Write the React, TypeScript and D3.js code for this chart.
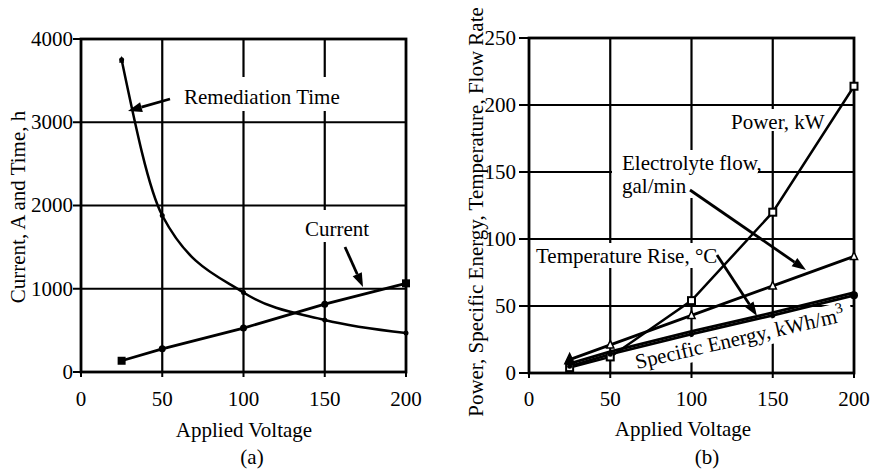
import React from "react";
import * as d3 from "d3";

const voltage = [25, 50, 100, 150, 200];
const remediationTime = [3750, 1880, 955, 625, 468];
const current = [135, 278, 528, 815, 1065];
const power = [4, 12, 54, 120, 214];
const electrolyteFlow = [10, 21, 43, 65, 87];
const temperatureRise = [7, 16, 31, 45, 60];
const specificEnergy = [5, 14, 29, 43, 58];
const xTicks = [0, 50, 100, 150, 200];
const yTicksA = [0, 1000, 2000, 3000, 4000];
const yTicksB = [0, 50, 100, 150, 200, 250];

const FONT = "'Liberation Serif', 'Times New Roman', serif";
const FS = 21;

function Arrow({ x1, y1, x2, y2 }: { x1: number; y1: number; x2: number; y2: number }) {
  const ang = Math.atan2(y2 - y1, x2 - x1);
  const L = 14, W = 5;
  const bx = x2 - L * Math.cos(ang), by = y2 - L * Math.sin(ang);
  const px = -Math.sin(ang) * W, py = Math.cos(ang) * W;
  return (
    <g>
      <line x1={x1} y1={y1} x2={bx} y2={by} stroke="#000" strokeWidth={2.8} />
      <polygon points={`${x2},${y2} ${bx + px},${by + py} ${bx - px},${by - py}`} fill="#000" />
    </g>
  );
}

function Grid({ x, y, xt, yt }: any) {
  const [x0, x1] = x.range();
  const [y0, y1] = y.range();
  return (
    <g>
      {xt.slice(1, -1).map((t: number) => (
        <line key={"vx" + t} x1={x(t)} x2={x(t)} y1={y0} y2={y1} stroke="#000" strokeWidth={2.2} />
      ))}
      {yt.slice(1, -1).map((t: number) => (
        <line key={"hy" + t} x1={x0} x2={x1} y1={y(t)} y2={y(t)} stroke="#000" strokeWidth={2.2} />
      ))}
    </g>
  );
}

function Axes({ x, y, xt, yt, tickLen, labelRight }: any) {
  const [x0, x1] = x.range();
  const [y0, y1] = y.range();
  return (
    <g fontFamily={FONT} fontSize={FS}>
      <rect x={x0} y={y1} width={x1 - x0} height={y0 - y1} fill="none" stroke="#000" strokeWidth={2.8} />
      {yt.map((t: number) => (
        <g key={"yt" + t}>
          <line x1={x0 - tickLen} x2={x0} y1={y(t)} y2={y(t)} stroke="#000" strokeWidth={2} />
          <text x={labelRight} y={y(t)} dy="0.33em" textAnchor="end">{t}</text>
        </g>
      ))}
      {xt.map((t: number) => (
        <g key={"xt" + t}>
          <line x1={x(t)} x2={x(t)} y1={y0} y2={y0 + 5} stroke="#000" strokeWidth={2} />
          <text x={x(t)} y={406} textAnchor="middle">{t}</text>
        </g>
      ))}
    </g>
  );
}

export default function App() {
  const xa = d3.scaleLinear().domain([0, 200]).range([81, 406]);
  const ya = d3.scaleLinear().domain([0, 4000]).range([372, 39]);
  const xb = d3.scaleLinear().domain([0, 200]).range([529, 854]);
  const yb = d3.scaleLinear().domain([0, 250]).range([373, 38]);

  const lineA = (vals: number[], curve: any) =>
    d3.line<number>().x((_, i) => xa(voltage[i])).y((v) => ya(v)).curve(curve)(vals) || "";
  const lineB = (vals: number[]) =>
    d3.line<number>().x((_, i) => xb(voltage[i])).y((v) => yb(v))(vals) || "";

  const seAngle = -13;
  const seX = 637, seY = 369;

  return (
    <svg width={874} height={469} style={{ position: "absolute", left: 0, top: 0, background: "#fff" }}>
      <rect width={874} height={469} fill="#fff" />
      {/* Panel A */}
      <Grid x={xa} y={ya} xt={xTicks} yt={yTicksA} />
      <rect x={180} y={77} width={166} height={34} fill="#fff" />
      <rect x={300} y={210} width={74} height={32} fill="#fff" />
      <Axes x={xa} y={ya} xt={xTicks} yt={yTicksA} tickLen={8} labelRight={73} />
      <path d={lineA(remediationTime, d3.curveMonotoneX)} fill="none" stroke="#000" strokeWidth={2.5} />
      <path d={lineA(current, d3.curveLinear)} fill="none" stroke="#000" strokeWidth={2.8} />
      {voltage.map((v, i) => (
        <circle key={"rt" + i} cx={xa(v)} cy={ya(remediationTime[i])} r={2.5} fill="#000" />
      ))}
      <polygon points={`${xa(25)},${ya(remediationTime[0]) - 4} ${xa(25) - 2.5},${ya(remediationTime[0]) + 3} ${xa(25) + 2.5},${ya(remediationTime[0]) + 3}`} fill="#000" />
      {voltage.map((v, i) =>
        i === 0 || i === voltage.length - 1 ? (
          <rect key={"cu" + i} x={xa(v) - 4} y={ya(current[i]) - 4} width={8} height={8} fill="#000" />
        ) : (
          <circle key={"cu" + i} cx={xa(v)} cy={ya(current[i])} r={3.5} fill="#000" />
        )
      )}
      <g fontFamily={FONT} fontSize={FS}>
        <text x={184} y={104}>Remediation Time</text>
        <text x={305} y={236}>Current</text>
        <text x={244} y={437} textAnchor="middle">Applied Voltage</text>
        <text x={252} y={464} textAnchor="middle">(a)</text>
        <text transform="translate(25,207) rotate(-90)" textAnchor="middle">Current, A and Time, h</text>
      </g>
      <Arrow x1={170} y1={99} x2={128} y2={111} />
      <Arrow x1={345} y1={247} x2={363} y2={287} />

      {/* Panel B */}
      <Grid x={xb} y={yb} xt={xTicks} yt={yTicksB} />
      <rect x={728} y={109} width={96} height={22} fill="#fff" />
      <rect x={612} y={150} width={146} height={48} fill="#fff" />
      <rect x={533} y={243} width={188} height={25} fill="#fff" />
      <g transform={`translate(${seX},${seY}) rotate(${seAngle})`}>
        <rect x={-4} y={-19} width={226} height={25} fill="#fff" />
      </g>
      <Axes x={xb} y={yb} xt={xTicks} yt={yTicksB} tickLen={10} labelRight={516} />
      <path d={lineB(power)} fill="none" stroke="#000" strokeWidth={2.5} />
      <path d={lineB(electrolyteFlow)} fill="none" stroke="#000" strokeWidth={2.8} />
      <path d={lineB(temperatureRise)} fill="none" stroke="#000" strokeWidth={2.8} />
      <path d={lineB(specificEnergy)} fill="none" stroke="#000" strokeWidth={2.8} />
      {voltage.map((v, i) => (
        <rect key={"pw" + i} x={xb(v) - 3.5} y={yb(power[i]) - 3.5} width={7} height={7}
          fill="#fff" stroke="#000" strokeWidth={2} />
      ))}
      {voltage.map((v, i) => {
        const cx = xb(v), cy = yb(electrolyteFlow[i]);
        const s = i === 0 ? 6 : 4.5;
        return (
          <polygon key={"ef" + i}
            points={`${cx},${cy - s} ${cx - s * 0.8},${cy + s * 0.7} ${cx + s * 0.8},${cy + s * 0.7}`}
            fill={i === 0 ? "#000" : "#fff"} stroke="#000" strokeWidth={1.5} />
        );
      })}
      {voltage.map((v, i) => (
        <circle key={"se" + i} cx={xb(v)} cy={yb(specificEnergy[i])} r={i === voltage.length - 1 ? 4 : 2.5} fill="#000" />
      ))}
      <g fontFamily={FONT} fontSize={FS}>
        <text x={731} y={129}>Power, kW</text>
        <text x={622} y={170}>Electrolyte flow,</text>
        <text x={622} y={193}>gal/min</text>
        <text x={536} y={263}>Temperature Rise, °C</text>
        <text transform={`translate(${seX},${seY}) rotate(${seAngle})`}>
          Specific Energy, kWh/m<tspan dy={-9} fontSize={15}>3</tspan>
        </text>
        <text x={683} y={436} textAnchor="middle">Applied Voltage</text>
        <text x={707} y={464} textAnchor="middle">(b)</text>
        <text transform="translate(483,212) rotate(-90)" textAnchor="middle">Power, Specific Energy, Temperature, Flow Rate</text>
      </g>
      <Arrow x1={690} y1={190} x2={806} y2={270} />
      <Arrow x1={717} y1={255} x2={757} y2={316} />
    </svg>
  );
}
